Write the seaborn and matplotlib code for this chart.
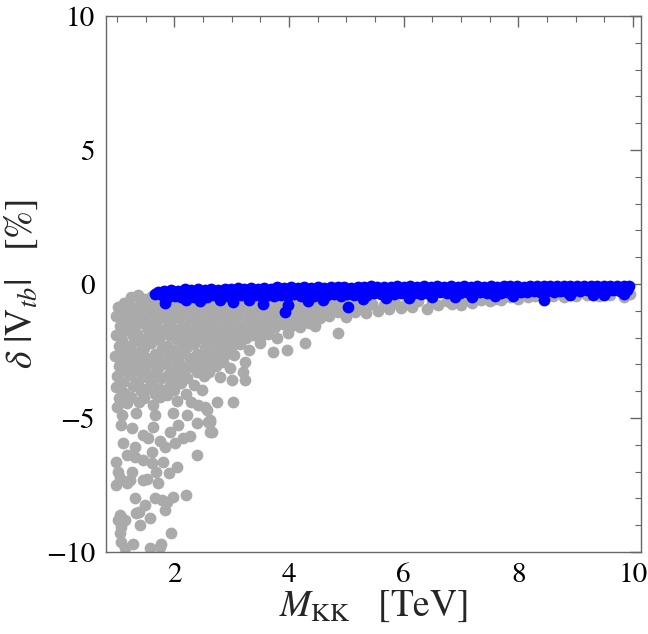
import numpy as np
import pandas as pd
import matplotlib
matplotlib.use("Agg")
import matplotlib.pyplot as plt
from matplotlib.ticker import MultipleLocator
import seaborn as sns

# gray points: all parameter points (M_KK [TeV], delta|Vtb| [%])
gray_dense = [
    (1.02, -0.85), (0.98, -1.2), (1.05, -1.55), (0.99, -1.9), (1.03, -2.3), (0.97, -2.7),
    (1.04, -3.05), (1.0, -3.45), (0.98, -3.85), (1.03, -4.25), (1.0, -4.6),
    (1.13, -0.7), (1.1, -1.05), (1.15, -1.4), (1.12, -1.75), (1.09, -2.1), (1.14, -2.5),
    (1.11, -2.85), (1.16, -3.25), (1.1, -3.65), (1.13, -4.05), (1.17, -4.45),
    (1.24, -0.5), (1.27, -0.9), (1.22, -1.25), (1.26, -1.6), (1.28, -1.95), (1.23, -2.3),
    (1.27, -2.7), (1.25, -3.05), (1.22, -3.4), (1.28, -3.8), (1.24, -4.2),
    (1.36, -0.4), (1.4, -0.75), (1.37, -1.1), (1.39, -1.45), (1.35, -1.85), (1.41, -2.15),
    (1.38, -2.55), (1.36, -2.9), (1.4, -3.3), (1.37, -3.65), (1.42, -4.0), (1.38, -4.4),
    (1.49, -0.55), (1.52, -0.9), (1.48, -1.3), (1.53, -1.65), (1.5, -2.0), (1.47, -2.4),
    (1.52, -2.75), (1.49, -3.15), (1.54, -3.5), (1.5, -3.9), (1.48, -4.25),
    (1.62, -0.45), (1.64, -0.8), (1.61, -1.15), (1.65, -1.5), (1.63, -1.85), (1.6, -2.2),
    (1.66, -2.6), (1.62, -2.95), (1.64, -3.35), (1.61, -3.7), (1.66, -4.1), (1.63, -4.5),
    (1.75, -0.6), (1.77, -0.95), (1.73, -1.3), (1.76, -1.7), (1.74, -2.05), (1.78, -2.4),
    (1.75, -2.8), (1.72, -3.15), (1.77, -3.5), (1.75, -3.9), (1.75, -4.2),
    (1.87, -0.5), (1.9, -0.85), (1.86, -1.2), (1.89, -1.55), (1.91, -1.9), (1.87, -2.3),
    (1.9, -2.65), (1.85, -3.0), (1.89, -3.4), (1.92, -3.75), (1.87, -4.15),
    (2.0, -0.6), (2.02, -0.95), (1.98, -1.3), (2.01, -1.7), (2.03, -2.05), (1.99, -2.45),
    (2.02, -2.8), (1.98, -3.2), (2.03, -3.55), (2.0, -3.95), (2.05, -4.35),
    (2.12, -0.5), (2.14, -0.85), (2.1, -1.2), (2.13, -1.55), (2.11, -1.9), (2.15, -2.25),
    (2.12, -2.6), (2.1, -3.0), (2.14, -3.35), (2.12, -3.7), (2.2, -4.1),
    (2.25, -0.6), (2.23, -0.95), (2.27, -1.3), (2.24, -1.65), (2.26, -2.0), (2.23, -2.35),
    (2.27, -2.75), (2.25, -3.1), (2.22, -3.5), (2.35, -3.75), (2.3, -4.4),
    (2.37, -0.5), (2.39, -0.85), (2.36, -1.2), (2.4, -1.55), (2.38, -1.9), (2.35, -2.25),
    (2.39, -2.6), (2.37, -2.95), (2.4, -3.3),
    (2.5, -0.6), (2.52, -0.95), (2.48, -1.3), (2.51, -1.65), (2.49, -2.0), (2.53, -2.35),
    (2.5, -2.7), (2.47, -3.05), (2.48, -3.96), (2.52, -3.45),
    (2.62, -0.5), (2.6, -0.85), (2.64, -1.2), (2.61, -1.55), (2.63, -1.9), (2.6, -2.25),
    (2.65, -2.6), (2.62, -2.95), (2.6, -3.3),
    (2.75, -0.6), (2.77, -0.95), (2.73, -1.3), (2.76, -1.65), (2.74, -2.0), (2.78, -2.35),
    (2.75, -2.7), (2.8, -3.46), (2.72, -3.05),
    (2.87, -0.5), (2.9, -0.85), (2.86, -1.2), (2.89, -1.55), (2.91, -1.9), (2.87, -2.25),
    (2.9, -2.6), (2.97, -3.15), (2.85, -2.9),
    (3.0, -0.6), (3.02, -0.95), (2.98, -1.3), (3.01, -1.65), (3.03, -2.0), (2.99, -2.35),
    (3.0, -3.58), (3.2, -3.27), (3.23, -3.58), (3.23, -2.9), (3.05, -2.65),
    (3.12, -0.5), (3.14, -0.85), (3.1, -1.2), (3.13, -1.55), (3.11, -1.9), (3.15, -2.25),
    (3.25, -0.6), (3.23, -0.95), (3.27, -1.3), (3.24, -1.65), (3.26, -2.0), (3.3, -2.45),
    (3.37, -0.5), (3.39, -0.85), (3.36, -1.2), (3.4, -1.55), (3.38, -1.9), (3.5, -2.21),
    (3.5, -0.6), (3.52, -0.95), (3.48, -1.3), (3.51, -1.65), (3.49, -2.0),
    (3.62, -0.5), (3.6, -0.85), (3.64, -1.2), (3.61, -1.55), (3.63, -1.85),
    (3.75, -0.6), (3.77, -0.95), (3.73, -1.3), (3.76, -1.6), (3.73, -2.52), (3.8, -2.0),
    (3.87, -0.5), (3.9, -0.85), (3.86, -1.2), (3.89, -1.5), (3.96, -2.46), (3.99, -1.84),
    (4.0, -0.6), (4.02, -0.95), (3.98, -1.25), (4.03, -1.55),
    (4.12, -0.5), (4.14, -0.85), (4.1, -1.15), (4.1, -1.45),
    (4.25, -0.6), (4.23, -0.95), (4.27, -1.3), (4.2, -1.6), (4.28, -2.21),
    (4.37, -0.5), (4.39, -0.85), (4.36, -1.15), (4.35, -1.45),
    (4.5, -0.6), (4.52, -0.95), (4.48, -1.25), (4.45, -1.55),
    (4.62, -0.5), (4.6, -0.85), (4.64, -1.1), (4.54, -1.28),
    (4.75, -0.6), (4.77, -0.95), (4.7, -1.2),
    (4.87, -0.5), (4.9, -0.85), (4.86, -1.05), (4.86, -1.84),
    (5.0, -0.6), (5.02, -0.95), (5.0, -1.22),
]

gray_strip = [
    (5.1, -0.7), (5.15, -1.05), (5.25, -0.85), (5.35, -1.1), (5.45, -0.75), (5.55, -1.0),
    (5.65, -0.8), (5.75, -0.95), (5.85, -0.7), (5.95, -0.9), (6.05, -0.75), (6.15, -0.85),
    (6.25, -0.65), (6.4, -0.95), (6.5, -0.7), (6.6, -0.8), (6.75, -0.65), (6.85, -0.75),
    (7.0, -0.78), (7.1, -0.6), (7.2, -0.7), (7.35, -0.6), (7.5, -0.65), (7.6, -0.55),
    (7.7, -0.6), (7.85, -0.5), (8.0, -0.55), (8.17, -0.49), (8.3, -0.45), (8.45, -0.5),
    (8.6, -0.45), (8.8, -0.5), (9.0, -0.45), (9.2, -0.42), (9.4, -0.45), (9.6, -0.4),
    (9.84, -0.49), (9.95, -0.38),
]

gray_tail = [
    (1.09, -4.89), (1.34, -4.82), (1.66, -4.89), (1.98, -4.82), (2.22, -4.89), (2.57, -4.7),
    (2.62, -5.14), (2.62, -5.51), (2.39, -5.2), (2.42, -4.51), (2.75, -4.39), (3.03, -4.42),
    (2.54, -4.58), (2.62, -5.07), (2.59, -5.14), (2.65, -5.51),
    (1.08, -5.26), (1.26, -5.38), (1.46, -5.63), (1.63, -5.32), (1.92, -5.51), (2.07, -5.26),
    (2.16, -5.76), (2.27, -5.69), (2.01, -5.94), (1.75, -5.87), (1.55, -5.75),
    (1.11, -5.94), (1.31, -6.07), (1.84, -6.07), (2.39, -6.38), (1.17, -6.38), (1.31, -6.44),
    (1.46, -6.57), (1.61, -6.26), (1.61, -6.69), (1.81, -6.63), (2.04, -6.82), (0.99, -6.63),
    (1.02, -7.0), (1.26, -7.0), (1.69, -7.0), (1.9, -7.06), (1.05, -7.25), (0.99, -7.5),
    (1.17, -7.44), (1.22, -7.3), (1.46, -7.31), (1.52, -7.28), (1.72, -7.44),
    (1.31, -8.0), (1.66, -8.0), (1.78, -8.06), (1.87, -8.12), (1.98, -7.94), (2.2, -7.87),
    (1.49, -8.25), (1.84, -8.43), (1.05, -8.62), (1.14, -8.81), (1.34, -8.55), (1.39, -8.5),
    (1.58, -8.74), (1.02, -8.81), (1.08, -9.05), (1.4, -8.99), (1.05, -9.3), (1.95, -9.3),
    (1.08, -9.61), (1.28, -9.7), (1.14, -9.86), (1.58, -9.86), (1.75, -9.8), (1.77, -9.7),
]

# blue points: the ones passing the constraints
blue_top = [
    (1.72, -0.3), (1.83, -0.27), (1.95, -0.22), (2.06, -0.25), (2.18, -0.2), (2.3, -0.23),
    (2.41, -0.19), (2.53, -0.22), (2.64, -0.18), (2.76, -0.21), (2.88, -0.17), (2.99, -0.2),
    (3.11, -0.16), (3.22, -0.19), (3.34, -0.15), (3.46, -0.18), (3.57, -0.14), (3.69, -0.17),
    (3.8, -0.13), (3.92, -0.16), (4.04, -0.12), (4.15, -0.15), (4.27, -0.11), (4.38, -0.14),
    (4.5, -0.12), (4.62, -0.15), (4.73, -0.1), (4.85, -0.13), (4.96, -0.11), (5.08, -0.14),
    (5.2, -0.1), (5.31, -0.12), (5.43, -0.09), (5.54, -0.13), (5.66, -0.1), (5.78, -0.12),
    (5.89, -0.09), (6.01, -0.11), (6.12, -0.09), (6.24, -0.12), (6.36, -0.09), (6.47, -0.1),
    (6.59, -0.08), (6.7, -0.11), (6.82, -0.09), (6.94, -0.1), (7.05, -0.08), (7.17, -0.1),
    (7.28, -0.08), (7.4, -0.1), (7.52, -0.08), (7.63, -0.1), (7.75, -0.08), (7.86, -0.09),
    (7.98, -0.07), (8.1, -0.1), (8.21, -0.08), (8.33, -0.09), (8.44, -0.07), (8.56, -0.09),
    (8.68, -0.07), (8.79, -0.09), (8.91, -0.07), (9.02, -0.08), (9.14, -0.07), (9.26, -0.09),
    (9.37, -0.07), (9.49, -0.08), (9.6, -0.07), (9.72, -0.09), (9.84, -0.07), (9.93, -0.08),
]

blue_bottom = [
    (1.67, -0.36), (1.78, -0.42), (1.89, -0.47), (2.01, -0.44), (2.12, -0.49), (2.24, -0.43),
    (2.35, -0.47), (2.47, -0.44), (2.58, -0.48), (2.7, -0.42), (2.82, -0.46), (2.93, -0.43),
    (3.05, -0.47), (3.16, -0.41), (3.28, -0.45), (3.4, -0.42), (3.51, -0.46), (3.63, -0.4),
    (3.74, -0.44), (3.86, -0.41), (3.98, -0.45), (4.09, -0.39), (4.21, -0.43), (4.32, -0.4),
    (4.44, -0.44), (4.56, -0.38), (4.67, -0.42), (4.79, -0.39), (4.9, -0.43), (5.02, -0.37),
    (5.14, -0.4), (5.25, -0.36), (5.37, -0.4), (5.48, -0.35), (5.6, -0.39), (5.72, -0.36),
    (5.83, -0.38), (5.95, -0.34), (6.06, -0.37), (6.18, -0.34), (6.3, -0.36), (6.41, -0.32),
    (6.53, -0.35), (6.64, -0.31), (6.76, -0.35), (6.88, -0.32), (6.99, -0.34), (7.11, -0.3),
    (7.22, -0.33), (7.34, -0.3), (7.46, -0.32), (7.57, -0.29), (7.69, -0.32), (7.8, -0.28),
    (7.92, -0.31), (8.04, -0.28), (8.15, -0.3), (8.27, -0.27), (8.38, -0.29), (8.5, -0.26),
    (8.62, -0.29), (8.73, -0.26), (8.85, -0.28), (8.96, -0.25), (9.08, -0.27), (9.2, -0.24),
    (9.31, -0.27), (9.43, -0.24), (9.54, -0.26), (9.66, -0.23), (9.78, -0.25), (9.9, -0.23),
]

blue_low = [
    (1.84, -0.72), (2.2, -0.58), (2.45, -0.62), (2.8, -0.58), (3.03, -0.66), (3.3, -0.58),
    (3.55, -0.75), (3.98, -0.78), (3.93, -1.05), (4.33, -0.62), (4.6, -0.6), (5.03, -0.85),
    (5.3, -0.57), (5.7, -0.52), (6.1, -0.54), (6.5, -0.5), (6.9, -0.48), (7.2, -0.47),
    (7.6, -0.44), (7.9, -0.46), (8.44, -0.6), (8.9, -0.42), (9.3, -0.4), (9.5, -0.4),
    (9.85, -0.36),
]

gray = pd.DataFrame(gray_dense + gray_strip + gray_tail, columns=["mkk", "dvtb"])
blue = pd.DataFrame(blue_top + blue_bottom + blue_low, columns=["mkk", "dvtb"])

sns.set_theme(style="white")
plt.rcParams["font.family"] = ["STIXGeneral", "DejaVu Serif"]
plt.rcParams["mathtext.fontset"] = "stix"
plt.rcParams["axes.unicode_minus"] = True

fig = plt.figure(figsize=(6.48, 6.34), dpi=100)
ax = fig.add_axes([106 / 648, 82 / 634, 535 / 648, 536 / 634])

sns.scatterplot(data=gray, x="mkk", y="dvtb", color="#aaaaaa", s=72, linewidth=0, ax=ax)
sns.scatterplot(data=blue, x="mkk", y="dvtb", color="#0000ff", s=72, linewidth=0, ax=ax)

ax.set_xlim(0.81, 10.14)
ax.set_ylim(-10, 10)
ax.xaxis.set_major_locator(MultipleLocator(2))
ax.xaxis.set_minor_locator(MultipleLocator(0.5))
ax.yaxis.set_major_locator(MultipleLocator(5))
ax.yaxis.set_minor_locator(MultipleLocator(1))
ax.tick_params(which="both", direction="in", top=True, right=True, color="#666666",
               labelsize=21, labelcolor="black", pad=8)
ax.tick_params(which="major", length=8, width=1)
ax.tick_params(which="minor", length=4.5, width=0.8)
for sp in ax.spines.values():
    sp.set_color("#666666")
    sp.set_linewidth(1)

ax.set_xlabel(r"$M_{\mathrm{KK}}\ \ \ [\mathrm{TeV}]$", fontsize=27, labelpad=0)
ax.set_ylabel(r"$\delta\ |\mathrm{V}_{tb}|\ \ \ [\%]$", fontsize=27, labelpad=4)

fig.savefig("out.png", dpi=100)
